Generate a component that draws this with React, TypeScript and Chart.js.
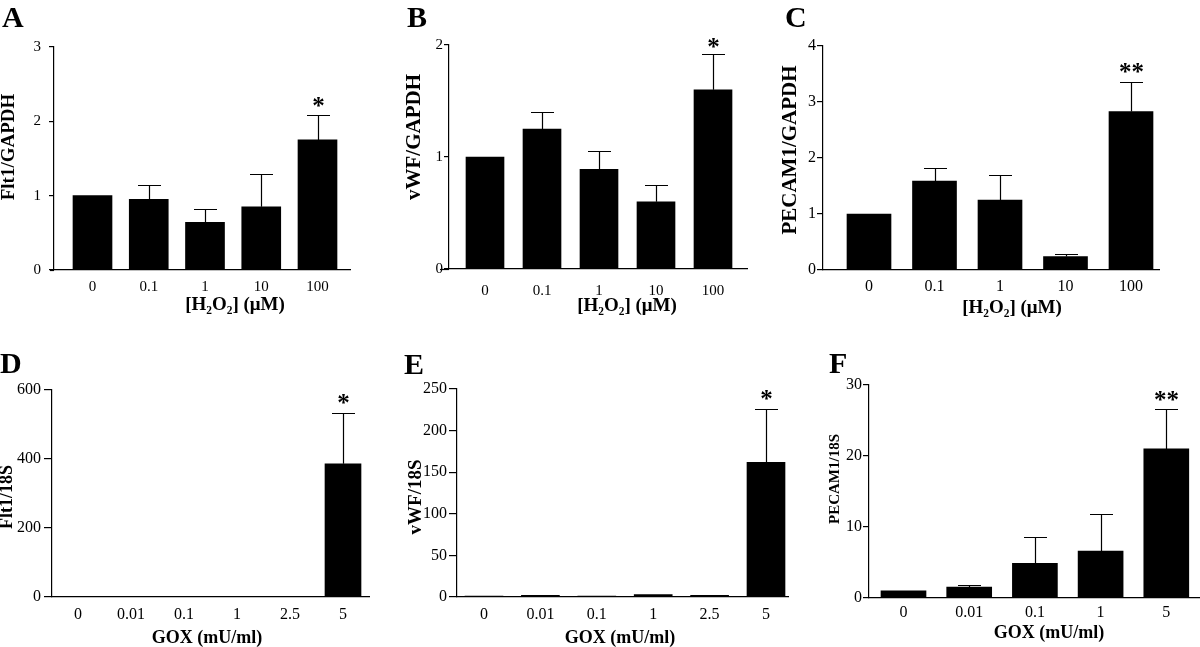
import React, { useEffect, useRef } from "react";
import { Chart, registerables } from "chart.js";

Chart.register(...registerables);

const SERIF = '"Liberation Serif", "Times New Roman", Times, serif';

// ---------- data ----------
const h2o2Doses = ["0", "0.1", "1", "10", "100"];
const goxDosesDE = ["0", "0.01", "0.1", "1", "2.5", "5"];
const goxDosesF = ["0", "0.01", "0.1", "1", "5"];

const flt1GapdhMean = [1.0, 0.95, 0.64, 0.85, 1.75];
const flt1GapdhErr = [0, 0.19, 0.18, 0.44, 0.34];
const flt1GapdhSig = ["", "", "", "", "*"];
const flt1GapdhTicks = [0, 1, 2, 3];

const vwfGapdhMean = [1.0, 1.25, 0.89, 0.6, 1.6];
const vwfGapdhErr = [0, 0.15, 0.16, 0.15, 0.32];
const vwfGapdhSig = ["", "", "", "", "*"];
const vwfGapdhTicks = [0, 1, 2];

const pecamGapdhMean = [1.0, 1.59, 1.25, 0.24, 2.83];
const pecamGapdhErr = [0, 0.23, 0.44, 0.05, 0.52];
const pecamGapdhSig = ["", "", "", "", "**"];
const pecamGapdhTicks = [0, 1, 2, 3, 4];

const flt118sMean = [1, 1, 2, 2, 1, 386];
const flt118sErr = [0, 0, 0, 0, 0, 147];
const flt118sSig = ["", "", "", "", "", "*"];
const flt118sTicks = [0, 200, 400, 600];

const vwf18sMean = [1, 2, 1, 3, 2, 162];
const vwf18sErr = [0, 0, 0, 0, 0, 64];
const vwf18sSig = ["", "", "", "", "", "*"];
const vwf18sTicks = [0, 50, 100, 150, 200, 250];

const pecam18sMean = [1.0, 1.55, 4.9, 6.6, 21.0];
const pecam18sErr = [0, 0.25, 3.7, 5.3, 5.6];
const pecam18sSig = ["", "", "", "", "**"];
const pecam18sTicks = [0, 10, 20, 30];

// ---------- layout ----------
type Panel = {
  letter: string;
  yTitle: string;
  xTitle: string;
  cats: string[];
  mean: number[];
  err: number[];
  sig: string[];
  yTicks: number[];
  box: [number, number, number, number];
  area: [number, number, number, number];
  c0: number;
  step: number;
  barW: number;
  tickFont: number;
  xPad: number;
  yPad: number;
  tickLen: number;
  letterPos: [number, number];
  yTitlePos: [number, number, number];
  xTitlePos: [number, number, number];
  starGap: number;
  xLineStart: number;
};

const panels: Panel[] = [
  {
    letter: "A", yTitle: "Flt1/GAPDH", xTitle: "[H\u2082O\u2082] (\u03bcM)",
    cats: h2o2Doses, mean: flt1GapdhMean, err: flt1GapdhErr, sig: flt1GapdhSig, yTicks: flt1GapdhTicks,
    box: [0, 0, 390, 320], area: [54, 47, 350, 270], c0: 92.5, step: 56.25, barW: 39,
    tickFont: 15, xPad: 8, yPad: 8, tickLen: 5,
    letterPos: [2, 27], yTitlePos: [9, 147, 19], xTitlePos: [235, 305, 19], starGap: 13, xLineStart: 50,
  },
  {
    letter: "B", yTitle: "vWF/GAPDH", xTitle: "[H\u2082O\u2082] (\u03bcM)",
    cats: h2o2Doses, mean: vwfGapdhMean, err: vwfGapdhErr, sig: vwfGapdhSig, yTicks: vwfGapdhTicks,
    box: [390, 0, 390, 320], area: [449, 45, 747, 269], c0: 485, step: 57, barW: 38,
    tickFont: 15, xPad: 13, yPad: 1, tickLen: 5,
    letterPos: [407, 27], yTitlePos: [415, 137, 21], xTitlePos: [627, 306, 19], starGap: 11, xLineStart: 440,
  },
  {
    letter: "C", yTitle: "PECAM1/GAPDH", xTitle: "[H\u2082O\u2082] (\u03bcM)",
    cats: h2o2Doses, mean: pecamGapdhMean, err: pecamGapdhErr, sig: pecamGapdhSig, yTicks: pecamGapdhTicks,
    box: [780, 0, 420, 320], area: [823, 46, 1159, 270], c0: 869, step: 65.5, barW: 44,
    tickFont: 16, xPad: 7, yPad: 1, tickLen: 6,
    letterPos: [785, 27], yTitlePos: [791, 150, 21], xTitlePos: [1012, 308, 19], starGap: 14, xLineStart: 823,
  },
  {
    letter: "D", yTitle: "Flt1/18S", xTitle: "GOX (mU/ml)",
    cats: goxDosesDE, mean: flt118sMean, err: flt118sErr, sig: flt118sSig, yTicks: flt118sTicks,
    box: [0, 320, 390, 327], area: [52, 390, 369, 597], c0: 78, step: 53, barW: 36,
    tickFont: 16, xPad: 8, yPad: 3, tickLen: 8,
    letterPos: [0, 373], yTitlePos: [7, 497, 18], xTitlePos: [207, 638, 18], starGap: 14, xLineStart: 52,
  },
  {
    letter: "E", yTitle: "vWF/18S", xTitle: "GOX (mU/ml)",
    cats: goxDosesDE, mean: vwf18sMean, err: vwf18sErr, sig: vwf18sSig, yTicks: vwf18sTicks,
    box: [390, 320, 400, 327], area: [457, 389, 788, 597], c0: 484, step: 56.4, barW: 38,
    tickFont: 16, xPad: 8, yPad: 2, tickLen: 8,
    letterPos: [404, 374], yTitlePos: [416, 497, 19], xTitlePos: [620, 638, 18], starGap: 14, xLineStart: 457,
  },
  {
    letter: "F", yTitle: "PECAM1/18S", xTitle: "GOX (mU/ml)",
    cats: goxDosesF, mean: pecam18sMean, err: pecam18sErr, sig: pecam18sSig, yTicks: pecam18sTicks,
    box: [790, 320, 410, 327], area: [869, 385, 1200, 598], c0: 903.5, step: 65.7, barW: 45,
    tickFont: 16, xPad: 5, yPad: 1, tickLen: 6,
    letterPos: [829, 373], yTitlePos: [835, 479, 15], xTitlePos: [1049, 633, 18], starGap: 13, xLineStart: 869,
  },
];

const STAR_SIZE = 25;

function overlay(p: Panel) {
  const [bx, by] = p.box;
  return {
    id: "overlay" + p.letter,
    afterDatasetsDraw(chart: any) {
      const ctx: CanvasRenderingContext2D = chart.ctx;
      const xs = chart.scales.x;
      const ys = chart.scales.y;
      ctx.save();
      ctx.strokeStyle = "#000";
      ctx.fillStyle = "#000";
      ctx.lineWidth = 1.2;
      const area = chart.chartArea;
      if (p.xLineStart - bx < area.left) {
        ctx.beginPath();
        ctx.moveTo(p.xLineStart - bx, Math.round(area.bottom) + 0.5);
        ctx.lineTo(area.left, Math.round(area.bottom) + 0.5);
        ctx.stroke();
      }
      p.mean.forEach((m, i) => {
        const x = Math.round(xs.getPixelForValue(i)) + 0.5;
        const yMean = ys.getPixelForValue(m);
        const top = m + p.err[i];
        const yTop = Math.round(ys.getPixelForValue(top)) + 0.5;
        if (p.err[i] > 0) {
          ctx.beginPath();
          ctx.moveTo(x, yMean);
          ctx.lineTo(x, yTop);
          ctx.moveTo(x - 11.5, yTop);
          ctx.lineTo(x + 11.5, yTop);
          ctx.stroke();
        }
        if (p.sig[i]) {
          ctx.font = `bold ${STAR_SIZE}px ${SERIF}`;
          ctx.textAlign = "center";
          ctx.textBaseline = "alphabetic";
          const center = yTop - p.starGap;
          ctx.fillText(p.sig[i], x, center + STAR_SIZE * 0.47);
        }
      });
      ctx.font = `bold 30px ${SERIF}`;
      ctx.textAlign = "left";
      ctx.textBaseline = "alphabetic";
      ctx.fillText(p.letter, p.letterPos[0] - bx, p.letterPos[1] - by);
      const [ycx, ycy, ysz] = p.yTitlePos;
      ctx.save();
      ctx.translate(ycx - bx, ycy - by);
      ctx.rotate(-Math.PI / 2);
      ctx.font = `bold ${ysz}px ${SERIF}`;
      ctx.textAlign = "center";
      ctx.textBaseline = "middle";
      ctx.fillText(p.yTitle, 0, 0);
      ctx.restore();
      const [xcx, xcy, xsz] = p.xTitlePos;
      ctx.font = `bold ${xsz}px ${SERIF}`;
      ctx.textAlign = "center";
      ctx.textBaseline = "middle";
      ctx.fillText(p.xTitle, xcx - bx, xcy - by);
      ctx.restore();
    },
  };
}

function PanelChart({ p }: { p: Panel }) {
  const ref = useRef<HTMLCanvasElement | null>(null);
  useEffect(() => {
    if (!ref.current) return;
    const [bx, by, bw, bh] = p.box;
    const [L, T, R, B] = p.area;
    const font = { family: SERIF, size: p.tickFont };
    const chart = new Chart(ref.current, {
      type: "bar",
      data: {
        datasets: [
          {
            data: p.mean.map((v, i) => ({ x: i, y: v })),
            backgroundColor: "#000",
            borderWidth: 0,
            barThickness: p.barW,
          } as any,
        ],
      },
      options: {
        responsive: false,
        animation: false,
        devicePixelRatio: 1,
        layout: {
          autoPadding: false,
          padding: { left: 0, top: T - by, right: bx + bw - R, bottom: 0 },
        },
        plugins: {
          legend: { display: false },
          tooltip: { enabled: false },
          title: { display: false },
        },
        scales: {
          x: {
            type: "linear",
            offset: false,
            min: (L - p.c0) / p.step,
            max: (R - p.c0) / p.step,
            afterBuildTicks: (s: any) => {
              s.ticks = p.cats.map((_, i) => ({ value: i }));
            },
            afterFit: (s: any) => {
              s.height = by + bh - B;
            },
            ticks: {
              autoSkip: false,
              maxRotation: 0,
              padding: p.xPad,
              font,
              color: "#000",
              callback: (v: any) => p.cats[Math.round(Number(v))] ?? "",
            },
            grid: { display: true, drawOnChartArea: false, drawTicks: false, offset: false },
            border: { display: true, color: "#000", width: 1.2 },
          },
          y: {
            type: "linear",
            min: 0,
            max: p.yTicks[p.yTicks.length - 1],
            afterBuildTicks: (s: any) => {
              s.ticks = p.yTicks.map((v) => ({ value: v }));
            },
            afterFit: (s: any) => {
              s.width = L - bx;
            },
            ticks: {
              padding: p.yPad,
              font,
              color: "#000",
              callback: (v: any) => String(v),
            },
            grid: {
              display: true,
              drawOnChartArea: false,
              drawTicks: true,
              tickLength: p.tickLen,
              color: "#000",
              lineWidth: 1.2,
            },
            border: { display: true, color: "#000", width: 1.2 },
          },
        },
      } as any,
      plugins: [overlay(p)],
    });
    return () => chart.destroy();
  }, [p]);
  const [bx, by, bw, bh] = p.box;
  return (
    <canvas
      ref={ref}
      width={bw}
      height={bh}
      style={{ position: "absolute", left: bx, top: by, width: bw, height: bh }}
    />
  );
}

export default function App() {
  return (
    <div
      style={{
        position: "absolute",
        left: 0,
        top: 0,
        width: 1200,
        height: 647,
        background: "#fff",
        overflow: "hidden",
      }}
    >
      {panels.map((p) => (
        <PanelChart key={p.letter} p={p} />
      ))}
    </div>
  );
}
